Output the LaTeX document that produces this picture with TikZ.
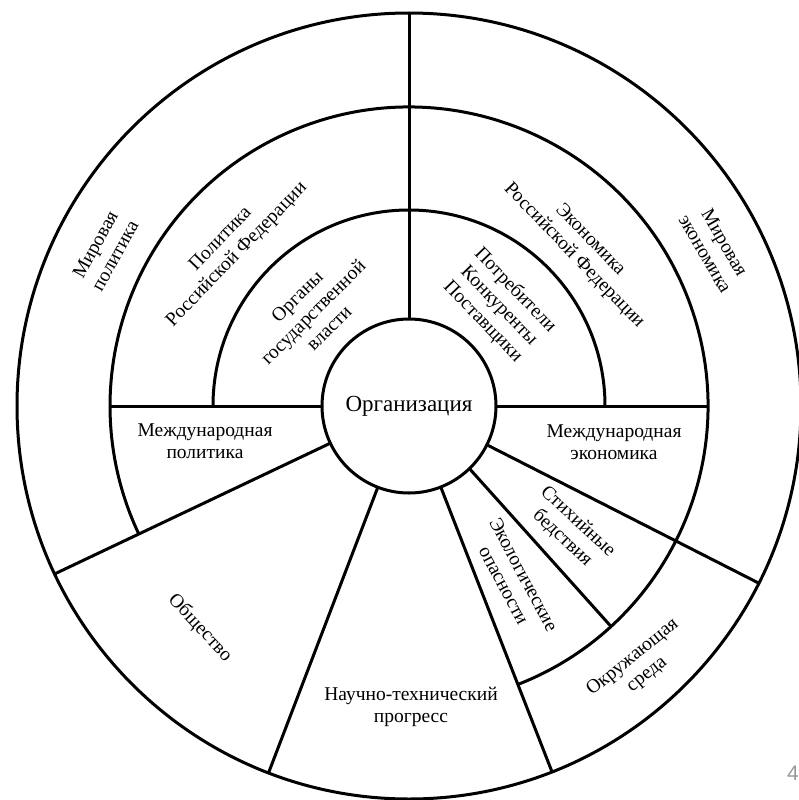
\documentclass[tikz,border=0pt]{standalone}
\usepackage{fontspec}
\setmainfont{Liberation Serif}
\newfontfamily\tnr{Liberation Serif}
\newfontfamily\pagefont{Liberation Sans}
\usetikzlibrary{calc}
\begin{document}
\begin{tikzpicture}[x=1pt,y=1pt,
  ring/.style={line width=3pt},
  lbl/.style={align=center, inner sep=0pt, font=\tnr\fontsize{19.5}{22.5}\selectfont},
]
\useasboundingbox (0,0) rectangle (798,-800);
\coordinate (C) at (409,-406);
% centre
\node[circle, draw, ring, minimum size=174pt, inner sep=0pt,
      font=\tnr\fontsize{23}{27}\selectfont] (org) at (C) {Организация};
% circles
\draw[ring] (C) ellipse [x radius=392pt, y radius=393pt];
\draw[ring] ($(C)+(-68.6:299pt)$) arc[start angle=-68.6, end angle=205.3, radius=299pt];
\draw[ring] ($(C)+(0:196pt)$) arc[start angle=0, end angle=180, radius=196pt];
% spoke end points
\coordinate (i90)  at ($(C)+(90:87pt)$);
\coordinate (o90)  at ($(C)+(90:392pt and 393pt)$);
\coordinate (i180) at ($(C)+(180:87pt)$);
\coordinate (m180) at ($(C)+(180:299pt)$);
\coordinate (i0)   at ($(C)+(0:87pt)$);
\coordinate (m0)   at ($(C)+(0:299pt)$);
\coordinate (iA)   at ($(C)+(205.3:87pt)$);
\coordinate (oA)   at ($(C)+(205.3:392pt and 393pt)$);
\coordinate (iB)   at ($(C)+(249:87pt)$);
\coordinate (oB)   at ($(C)+(249:392pt and 393pt)$);
\coordinate (iD)   at ($(C)+(-68.6:87pt)$);
\coordinate (oD)   at ($(C)+(-68.6:392pt and 393pt)$);
\coordinate (iE)   at ($(C)+(-46:87pt)$);
\coordinate (mE)   at ($(C)+(-47.5:299pt)$);
\coordinate (iF)   at ($(C)+(-26.5:87pt)$);
\coordinate (oF)   at ($(C)+(-26.8:392pt and 393pt)$);
% spokes
\draw[ring] (i90) -- (o90);
\draw[ring] (i180) -- (m180);
\draw[ring] (i0) -- (m0);
\draw[ring] (iA) -- (oA);
\draw[ring] (iB) -- (oB);
\draw[ring] (iD) -- (oD);
\draw[ring] (iE) -- (mE);
\draw[ring] (iF) -- (oF);
% labels
\node[lbl, rotate=61]  (mp)  at (105,-250) {Мировая\\политика};
\node[lbl, rotate=46]  (prf) at (229,-247) {Политика\\Российской Федерации};
\node[lbl, rotate=45]  (ogv) at (313,-312) {Органы\\государственной\\власти};
\node[lbl, rotate=-46] (erf) at (582,-248) {Экономика\\Российской Федерации};
\node[lbl, rotate=-60] (me)  at (715,-248) {Мировая\\экономика};
\node[lbl, rotate=-46] (pkp) at (499,-306) {Потребители\\Конкуренты\\Поставщики};
\node[lbl] (mpol) at (205,-441) {Международная\\политика};
\node[lbl] (mek)  at (614,-442) {Международная\\экономика};
\node[lbl, rotate=-47] (ob)  at (200,-628) {Общество};
\node[lbl] (ntp)  at (411,-707) {Научно-технический\\прогресс};
\node[lbl, rotate=-62] (eko) at (514,-580) {Экологические\\опасности};
\node[lbl, rotate=-43] (stb) at (570,-530) {Стихийные\\бедствия};
\node[lbl, rotate=39]  (okr) at (640,-666) {Окружающая\\среда};
\node[anchor=south west, inner sep=0pt, text=black!40,
      font=\pagefont\fontsize{21}{24}\selectfont] (pg) at (787,-781) {4};
\end{tikzpicture}
\end{document}
